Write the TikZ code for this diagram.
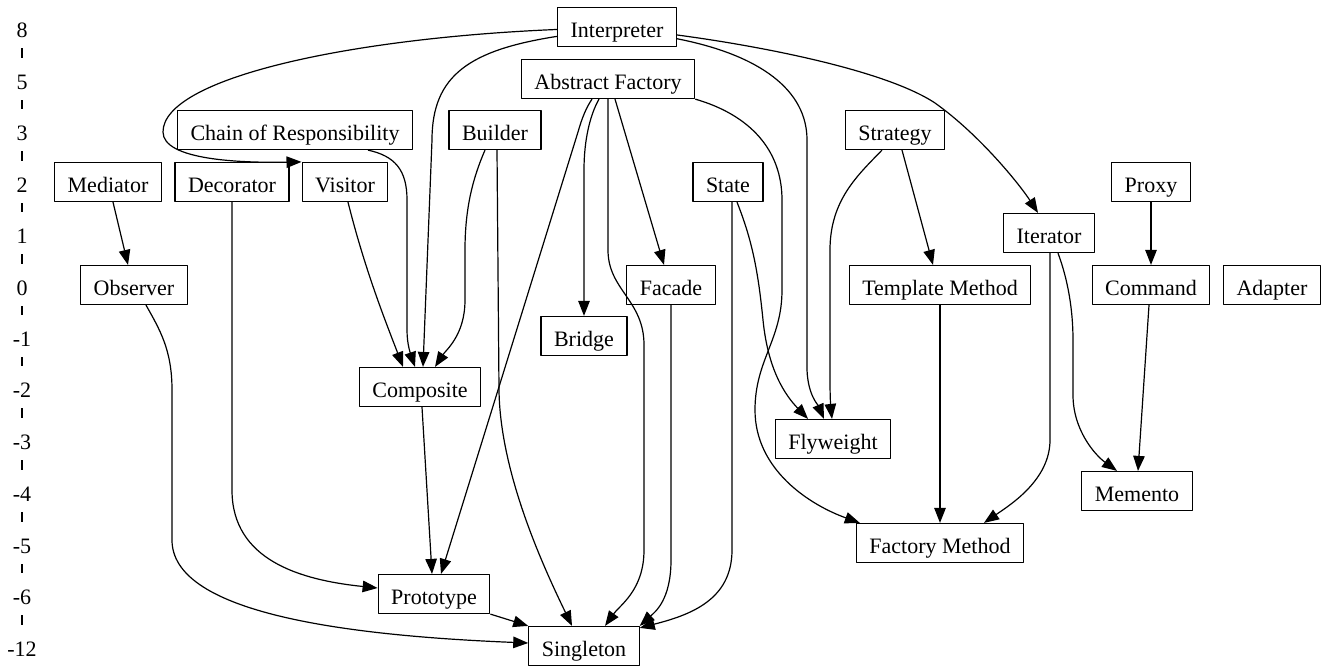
\documentclass[tikz,border=0pt]{standalone}
\usepackage{fontspec}
\setmainfont{Liberation Serif}
\usetikzlibrary{arrows.meta}
\begin{document}
\begin{tikzpicture}[x=1pt,y=-1pt,>={Triangle[length=15pt,width=11.5pt]},
	font=\fontsize{22}{26}\selectfont, line join=round, line width=1.2pt,
	pat/.style={draw, inner xsep=13pt, inner ysep=0pt, minimum height=39pt, text height=22pt, text depth=2pt},
	rank/.style={inner sep=0pt, minimum height=41pt, text height=22pt, text depth=2pt}]
	\useasboundingbox (0,0) rectangle (1323,667);
	%ranks
	\node[rank] (r8) at (22,27) {8};
	\node[rank] (r5) at (22,79) {5};
	\node[rank] (r3) at (22,130) {3};
	\node[rank] (r2) at (22,182) {2};
	\node[rank] (r1) at (22,233) {1};
	\node[rank] (r0) at (22,285) {0};
	\node[rank] (rm1) at (22,336) {-1};
	\node[rank] (rm2) at (22,387) {-2};
	\node[rank] (rm3) at (22,439) {-3};
	\node[rank] (rm4) at (22,491) {-4};
	\node[rank] (rm5) at (22,543) {-5};
	\node[rank] (rm6) at (22,594) {-6};
	\node[rank] (rm12) at (22,646) {-12};
	\draw (r8)--(r5) (r5)--(r3) (r3)--(r2) (r2)--(r1) (r1)--(r0) (r0)--(rm1)
	(rm1)--(rm2) (rm2)--(rm3) (rm3)--(rm4) (rm4)--(rm5) (rm5)--(rm6) (rm6)--(rm12);
	%patterns
	\node[pat] (interp) at (617,27) {Interpreter};
	\node[pat] (absfac) at (608,79) {Abstract Factory};
	\node[pat] (chain) at (295,130) {Chain of Responsibility};
	\node[pat] (builder) at (495,130) {Builder};
	\node[pat] (strategy) at (895,130) {Strategy};
	\node[pat] (mediator) at (108,182) {Mediator};
	\node[pat] (decorator) at (232,182) {Decorator};
	\node[pat] (visitor) at (345,182) {Visitor};
	\node[pat] (state) at (728,182) {State};
	\node[pat] (proxy) at (1151,182) {Proxy};
	\node[pat] (iterator) at (1049,233) {Iterator};
	\node[pat] (observer) at (134,285) {Observer};
	\node[pat] (facade) at (671,285) {Facade};
	\node[pat] (template) at (940,285) {Template Method};
	\node[pat] (command) at (1151,285) {Command};
	\node[pat] (adapter) at (1272,285) {Adapter};
	\node[pat] (bridge) at (584,336) {Bridge};
	\node[pat] (composite) at (420,387) {Composite};
	\node[pat] (flyweight) at (833,439) {Flyweight};
	\node[pat] (memento) at (1137,491) {Memento};
	\node[pat] (factory) at (940,543) {Factory Method};
	\node[pat] (prototype) at (434,594) {Prototype};
	\node[pat] (singleton) at (584,646) {Singleton};
	%relations
	\draw[->] (interp) .. controls (350,38) and (163,78) .. (163,132) .. controls (163,160) and (240,163) .. (visitor.north west);
	\draw[->] (interp) .. controls (470,50) and (432,75) .. (432,140) -- ([xshift=3pt]composite.north);
	\draw[->] (interp) .. controls (760,55) and (807,90) .. (807,140) -- (807,370) .. controls (808,395) and (818,405) .. ([xshift=-9pt]flyweight.north);
	\draw[->] (interp) .. controls (760,46) and (885,70) .. (935,103) .. controls (980,135) and (1020,185) .. ([xshift=-11pt]iterator.north);
	\draw[->] ([xshift=-16pt]absfac.south) .. controls (586,108) and (582,118) .. (578,132) -- ([xshift=7pt]prototype.north);
	\draw[->] ([xshift=-9pt]absfac.south) .. controls (590,115) and (584,140) .. (584,170) -- (bridge.north);
	\draw[->] (absfac.south) -- (608,250) .. controls (608,290) and (644,300) .. (644,345) -- (644,550) .. controls (644,590) and (620,605) .. ([xshift=21pt]singleton.north);
	\draw[->] ([xshift=7pt]absfac.south) -- ([xshift=-7pt]facade.north);
	\draw[->] (absfac.south east) .. controls (750,115) and (782,150) .. (782,200) -- (782,290) .. controls (782,340) and (755,360) .. (755,410) .. controls (755,470) and (810,505) .. ([xshift=4pt]factory.north west);
	\draw[->] ([xshift=73pt]chain.south) .. controls (395,156) and (407,170) .. (407,200) -- (407,330) .. controls (407,345) and (411,355) .. ([xshift=-5pt]composite.north);
	\draw[->] ([xshift=-10pt]builder.south) .. controls (472,180) and (465,210) .. (465,250) -- (465,300) .. controls (465,335) and (446,350) .. ([xshift=15pt]composite.north);
	\draw[->] ([xshift=2pt]builder.south) -- (499,390) .. controls (500,470) and (540,560) .. ([xshift=-12pt]singleton.north);
	\draw[->] ([xshift=3pt]visitor.south) .. controls (365,270) and (385,320) .. ([xshift=-17pt]composite.north);
	\draw[->] ([xshift=5pt]mediator.south) -- ([xshift=-6pt]observer.north);
	\draw[->] (decorator.south) -- (232,490) .. controls (232,560) and (300,580) .. ([yshift=6pt]prototype.west);
	\draw[->] ([xshift=12pt]observer.south) .. controls (160,330) and (172,350) .. (172,390) -- (172,540) .. controls (172,610) and (330,635) .. ([yshift=3pt]singleton.west);
	\draw[->] ([xshift=2pt]composite.south) -- ([xshift=-2pt]prototype.north);
	\draw[->] (prototype.south east) -- (singleton.north west);
	\draw[->] (facade.south) -- (671,560) .. controls (671,600) and (655,612) .. (singleton.north east);
	\draw[->] ([xshift=4pt]state.south) -- (732,550) .. controls (732,600) and (690,615) .. ([yshift=-2pt]singleton.north east);
	\draw[->] ([xshift=9pt]state.south) .. controls (752,240) and (758,270) .. (763,320) .. controls (768,370) and (785,395) .. ([xshift=-25pt]flyweight.north);
	\draw[->] ([xshift=-13pt]strategy.south) .. controls (858,175) and (830,200) .. (830,250) -- (830,380) .. controls (830,400) and (831,410) .. ([xshift=-1pt]flyweight.north);
	\draw[->] ([xshift=7pt]strategy.south) -- ([xshift=-7pt]template.north);
	\draw[->] (proxy) -- (command);
	\draw[->] ([xshift=1pt]iterator.south) -- (1050,440) .. controls (1050,480) and (1010,505) .. ([xshift=44pt]factory.north);
	\draw[->] ([xshift=9pt]iterator.south) .. controls (1068,280) and (1073,310) .. (1073,340) -- (1073,395) .. controls (1073,430) and (1095,455) .. ([xshift=-20pt]memento.north);
	\draw[->] (template) -- (factory);
	\draw[->] ([xshift=-2pt]command.south) -- ([xshift=1pt]memento.north);
\end{tikzpicture}
\end{document}
